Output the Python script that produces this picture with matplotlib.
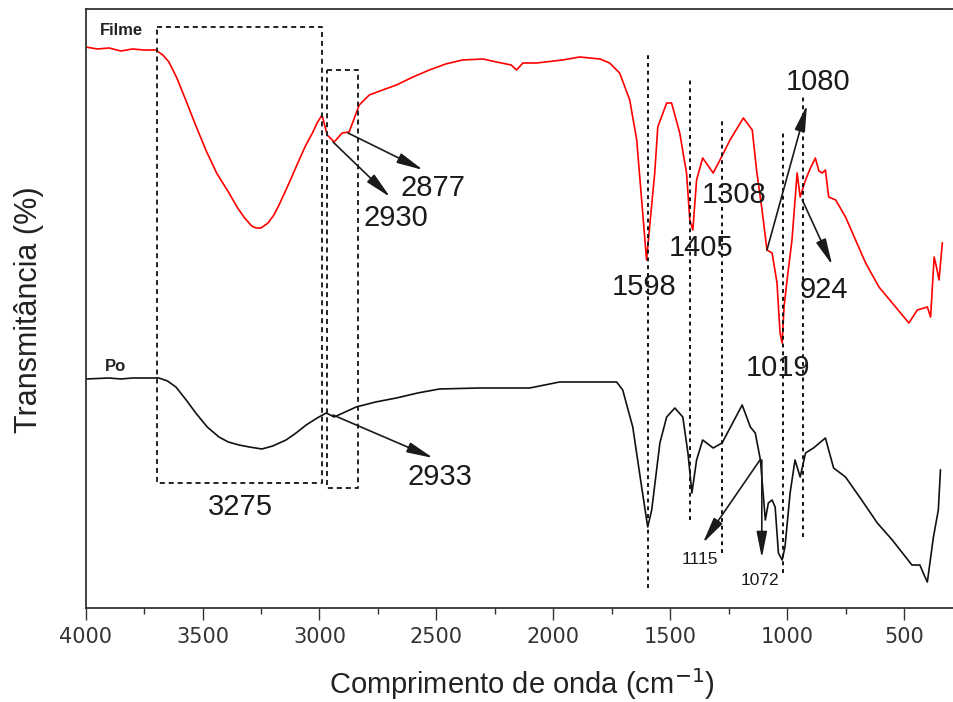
import matplotlib
matplotlib.use("Agg")
import matplotlib.pyplot as plt
from matplotlib.ticker import MultipleLocator

plt.rcParams['font.family'] = ['Liberation Sans', 'DejaVu Sans']

# ---- data (wavenumber cm-1, transmittance arbitrary units) ----
filme_w = [4000, 3950, 3900, 3850, 3800, 3750, 3700, 3670, 3644, 3610, 3572, 3530, 3486, 3440,
           3387, 3350, 3320, 3290, 3271, 3250, 3220, 3195, 3173, 3130, 3087, 3060, 3030, 3010,
           2989, 2967, 2937, 2903, 2873, 2830, 2787, 2730, 2671, 2600, 2530, 2460, 2389, 2300,
           2243, 2180, 2157, 2130, 2071, 1960, 1887, 1800, 1759, 1716, 1673, 1643, 1622, 1601,
           1588, 1566, 1553, 1515, 1494, 1459, 1430, 1416, 1403, 1387, 1361, 1316, 1287, 1244,
           1187, 1149, 1129, 1107, 1086, 1064, 1043, 1030, 1021, 1013, 1000, 979, 957, 944, 921,
           900, 879, 864, 849, 836, 822, 792, 750, 707, 664, 607, 550, 479, 443, 400, 386, 371,
           360, 350, 336]
filme_t = [561, 559, 560, 557, 559, 558, 558, 553, 546, 530, 508, 483, 458, 435,
           415, 400, 390, 382, 380, 380, 385, 393, 403, 425, 448, 462, 475, 485,
           493, 473, 466, 475, 476, 503, 513, 518, 523, 531, 538, 544, 548, 549,
           546, 543, 538, 545, 545, 548, 551, 549, 545, 535, 508, 468, 408, 348,
           381, 435, 481, 505, 505, 475, 435, 388, 378, 428, 450, 435, 448, 468,
           490, 478, 435, 398, 358, 355, 325, 275, 265, 301, 328, 368, 435, 411, 428,
           440, 450, 437, 435, 438, 411, 408, 391, 368, 345, 321, 305, 285, 298, 301, 291, 351,
           340, 328, 365]

po_w = [4000, 3900, 3850, 3800, 3687, 3650, 3614, 3570, 3529, 3480, 3430, 3390, 3344, 3300,
        3246, 3200, 3143, 3100, 3057, 3010, 2971, 2937, 2843, 2760, 2671, 2580, 2487, 2316,
        2101, 1973, 1887, 1729, 1703, 1660, 1622, 1596, 1579, 1544, 1515, 1480, 1446, 1424,
        1407, 1387, 1361, 1316, 1278, 1192, 1157, 1136, 1114, 1093, 1080, 1064, 1051, 1037,
        1021, 1009, 987, 966, 944, 921, 887, 836, 801, 750, 681, 614, 550, 466, 432, 410,
        400, 374, 353, 344]
po_t = [229, 230, 229, 230, 230, 227, 221, 208, 195, 181, 171, 166, 163, 161,
        159, 162, 168, 175, 183, 190, 195, 191, 201, 206, 210, 215, 219, 220,
        220, 226, 226, 226, 218, 181, 121, 81, 98, 165, 191, 200, 191, 155,
        115, 148, 168, 160, 165, 203, 181, 175, 148, 88, 105, 108, 101, 55,
        48, 61, 115, 148, 131, 155, 160, 170, 140, 131, 108, 85, 68, 43, 43, 31,
        26, 71, 98, 138]

# reference dashed lines: wavenumber, bottom, top
vlines_w = [1595, 1415, 1278, 1018, 932]
vlines_lo = [20, 88, 55, 35, 71]
vlines_hi = [553, 530, 488, 475, 511]

# dashed boxes: (w_left, w_right, t_bottom, t_top)
boxes = [(3694, 2989, 125, 581), (2968, 2835, 120, 538)]

# peak labels: text, text position, arrow (start, tip) or None, size
labels = [
    ("2877", (2515, 420), ((2878, 475), (2557, 438)), 21),
    ("2930", (2672, 390), ((2942, 466), (2698, 411)), 21),
    ("1080", (867, 526), ((1086, 358), (915, 503)), 21),
    ("1308", (1227, 413), None, 21),
    ("1405", (1368, 360), None, 21),
    ("1598", (1612, 321), None, 21),
    ("924", (842, 318), ((935, 408), (807, 343)), 21),
    ("1019", (1039, 240), None, 21),
    ("3275", (3340, 101), None, 21),
    ("2933", (2485, 131), ((2942, 193), (2514, 150)), 21),
    ("1115", (1373, 49), ((1116, 148), (1360, 65)), 12.5),
    ("1072", (1116, 28), ((1108, 148), (1108, 50)), 12.5),
]

fig = plt.figure(figsize=(9.54, 7.02), dpi=100)
ax = fig.add_axes([0.0898, 0.1339, 0.9102, 0.8533])

ax.plot(filme_w, filme_t, color='#ff0000', lw=1.2)
ax.plot(po_w, po_t, color='#111111', lw=1.2)

dash_v = (0, (2.0, 2.0))
for w, lo, hi in zip(vlines_w, vlines_lo, vlines_hi):
    ax.plot([w, w], [lo, hi], color='#111111', lw=1.4, ls=dash_v)

dash_b = (0, (2.6, 2.0))
for wl, wr, tb, tt in boxes:
    ax.plot([wl, wr, wr, wl, wl], [tt, tt, tb, tb, tt], color='#222222', lw=1.4, ls=dash_b)

for txt, pos, arr, fs in labels:
    ax.text(pos[0], pos[1], txt, fontsize=fs, color='#1a1a1a', ha='center', va='center')
    if arr is not None:
        ax.annotate('', xy=arr[1], xytext=arr[0],
                    arrowprops=dict(arrowstyle='-|>,head_length=1.0,head_width=0.2',
                                    color='#1a1a1a', lw=1.2, shrinkA=0, shrinkB=0,
                                    mutation_scale=16))

ax.text(3939, 577, "Filme", fontsize=12, fontweight='bold', color='#222222', ha='left', va='center')
ax.text(3917, 241, "Po", fontsize=12, fontweight='bold', color='#222222', ha='left', va='center')

ax.set_xlim(4000, 286)
ax.set_ylim(0, 599)
ax.set_yticks([])
ax.xaxis.set_major_locator(MultipleLocator(500))
ax.xaxis.set_minor_locator(MultipleLocator(250))
ax.tick_params(axis='x', which='major', length=8.6, width=1.0, color='#333333', pad=5)
ax.tick_params(axis='x', which='minor', length=4.3, width=1.0, color='#333333')
for lab in ax.get_xticklabels():
    lab.set_fontfamily('DejaVu Sans')
    lab.set_fontsize(15)
    lab.set_color('#333333')
ax.spines['right'].set_visible(False)
for s in ['top', 'left', 'bottom']:
    ax.spines[s].set_color('#333333')
    ax.spines[s].set_linewidth(1.3)

fig.text(522 / 954, 1 - 684 / 702, "Comprimento de onda (cm$^{-1}$)", fontsize=21,
         color='#222222', ha='center', va='center')
fig.text(29 / 954, 1 - 310 / 702, "Transmitância (%)", fontsize=22, rotation=90,
         color='#222222', ha='center', va='center')

fig.savefig("out.png", dpi=100)
